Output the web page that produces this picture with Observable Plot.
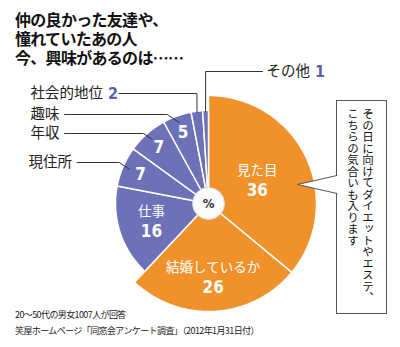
<!DOCTYPE html>
<html><head><meta charset="utf-8">
<script src="https://cdn.jsdelivr.net/npm/d3@7"></script>
<script src="https://cdn.jsdelivr.net/npm/@observablehq/plot@0.6"></script>
<style>
body{margin:0;background:#fff;}
#wrap{position:relative;width:400px;height:347px;overflow:hidden;font-family:"Noto Sans CJK JP",sans-serif;}
#chart{position:absolute;left:0;top:0;}
#title{position:absolute;left:15px;top:10px;font-size:16px;font-weight:bold;line-height:19px;color:#111;letter-spacing:-0.7px;}
#title div{height:19px;overflow:visible;}
#foot{position:absolute;left:15px;top:307px;font-size:9px;line-height:16px;color:#222;letter-spacing:-0.6px;}
#note{position:absolute;left:336px;top:100px;width:50px;height:213px;box-sizing:border-box;writing-mode:vertical-rl;font-size:11.5px;line-height:15px;padding:8px 11px 0 0;color:#111;}
</style></head>
<body>
<div id="wrap">
  <div id="chart"></div>
  <div id="title"><div>仲の良かった友達や、</div><div>憧れていたあの人</div><div>今、興味があるのは……</div></div>
  <div id="note">その日に向けてダイエットやエステ、こちらの気合いも入ります</div>
  <div id="foot"><div>20～50代の男女1007人が回答</div><div>笑屋ホームページ「同窓会アンケート調査」（2012年1月31日付）</div></div>
</div>
<script>
// ---- data ----
const categories = ["見た目","結婚しているか","仕事","現住所","年収","趣味","社会的地位","その他"];
const values = [36, 26, 16, 7, 7, 5, 2, 1];
const groups = ["A","A","B","B","B","B","B","B"];
const unitLabel = "%";

// ---- layout ----
const W = 400, H = 347, cx = 208, cy = 203;
const outerR = {A: 108, B: 93};
const colors = {A: "#F0912A", B: "#6D71B8"};
const numColor = "#5A5FAE";
const jp = "'Noto Sans CJK JP', sans-serif";
const num = "'DejaVu Sans Condensed', 'Liberation Sans Narrow', 'Noto Sans CJK JP', sans-serif";
// label placement (annotation layout)
const inside = {"見た目": {r: 54, both: true}, "結婚しているか": {r: 74, both: true}, "仕事": {r: 60, both: true},
  "現住所": {r: 74}, "年収": {r: 75}, "趣味": {r: 75}};
const outside = {
  "社会的地位": {x: 30, y: 93, kind: "vertical", showNum: true},
  "趣味": {x: 30, y: 114, kind: "diag"},
  "年収": {x: 30, y: 133, kind: "diag"},
  "現住所": {x: 28, y: 162, kind: "diag"},
  "その他": {x: 266, y: 71, kind: "vertical", showNum: true, right: true}
};
const outFont = 14.5;

const rows = categories.map((name, i) => ({name, value: values[i], group: groups[i]}));
const arcs = d3.pie().sort(null).value(d => d.value)(rows);
const pt = (a, r) => ({x: cx + r * Math.sin(a), y: cy - r * Math.cos(a)});

// slice polygons
const slicePts = arcs.flatMap(a => {
  const r = outerR[a.data.group];
  const n = Math.max(2, Math.ceil((a.endAngle - a.startAngle) / (Math.PI / 180)));
  const pts = [{x: cx, y: cy}];
  for (let i = 0; i <= n; i++) pts.push(pt(a.startAngle + (a.endAngle - a.startAngle) * i / n, r));
  pts.push({x: cx, y: cy});
  return pts.map(p => ({...p, name: a.data.name, group: a.data.group}));
});

// inside labels
const inNames = [], inNums = [], inSmall = [];
for (const a of arcs) {
  const L = inside[a.data.name]; if (!L) continue;
  const m = (a.startAngle + a.endAngle) / 2, p = pt(m, L.r);
  if (L.both) { inNames.push({...p, t: a.data.name}); inNums.push({...p, t: String(a.data.value)}); }
  else inSmall.push({...p, t: String(a.data.value)});
}

// outside labels & leaders
const outNames = [], outNums = [], leaders = [];
for (const a of arcs) {
  const L = outside[a.data.name]; if (!L) continue;
  const m = (a.startAngle + a.endAngle) / 2;
  const nameW = a.data.name.length * outFont;
  outNames.push({x: L.x, y: L.y, t: a.data.name});
  let lineStart;
  if (L.showNum) {
    const nx = L.x + nameW + 5;
    outNums.push({x: nx, y: L.y, t: String(a.data.value)});
    lineStart = nx + 11;
  } else lineStart = L.x + nameW + 5;
  if (L.kind === "vertical") {
    const e = pt(m, 92);
    const sx = L.right ? L.x - 4 : lineStart;
    leaders.push({x: sx, y: L.y, id: a.data.name}, {x: e.x, y: L.y, id: a.data.name}, {x: e.x, y: e.y, id: a.data.name});
  } else {
    const e = pt(m, 86);
    const ex = e.x - 1.5 * (e.y - L.y);
    leaders.push({x: lineStart, y: L.y, id: a.data.name}, {x: ex, y: L.y, id: a.data.name}, {x: e.x, y: e.y, id: a.data.name});
  }
}

// callout
const box = [{x1: 336.5, x2: 386.5, y1: 100.5, y2: 313.5}];
const ptrFill = [{x: 337.5, y: 175}, {x: 297, y: 184}, {x: 337.5, y: 193}];
const ptrEdge = [{x: 336.5, y: 175}, {x: 297, y: 184}, {x: 336.5, y: 193}];

const chart = Plot.plot({
  width: W, height: H, margin: 0,
  x: {domain: [0, W], axis: null},
  y: {domain: [0, H], reverse: true, axis: null},
  color: {domain: ["A", "B"], range: [colors.A, colors.B]},
  style: {background: "transparent"},
  marks: [
    Plot.line(slicePts, {x: "x", y: "y", z: "name", fill: "group", stroke: "white", strokeWidth: 1.5, strokeLinejoin: "miter"}),
    Plot.dot([{x: cx, y: cy}], {x: "x", y: "y", r: 16, fill: "#fbfbfb", stroke: "#d8d8d8", strokeWidth: 1}),
    Plot.text([{x: cx, y: cy, t: unitLabel}], {x: "x", y: "y", text: "t", fontSize: 13, fontWeight: "bold", fill: "#333", fontFamily: num}),
    Plot.text(inNames, {x: "x", y: "y", text: "t", dy: -10, fill: "white", fontSize: 13.5, fontFamily: jp}),
    Plot.text(inNums, {x: "x", y: "y", text: "t", dy: 10, fill: "white", fontSize: 17, fontWeight: "bold", fontFamily: num}),
    Plot.text(inSmall, {x: "x", y: "y", text: "t", fill: "white", fontSize: 17, fontWeight: "bold", fontFamily: num}),
    Plot.line(leaders, {x: "x", y: "y", z: "id", stroke: "#333", strokeWidth: 1, strokeLinejoin: "miter"}),
    Plot.text(outNames, {x: "x", y: "y", text: "t", textAnchor: "start", fill: "#222", fontSize: outFont, fontFamily: jp}),
    Plot.text(outNums, {x: "x", y: "y", text: "t", textAnchor: "start", fill: numColor, fontSize: 16, fontWeight: "bold", fontFamily: num}),
    Plot.rect(box, {x1: "x1", x2: "x2", y1: "y1", y2: "y2", fill: "white", stroke: "#555", strokeWidth: 1}),
    Plot.line(ptrFill, {x: "x", y: "y", fill: "white", stroke: "none"}),
    Plot.line(ptrEdge, {x: "x", y: "y", stroke: "#555", strokeWidth: 1, strokeLinejoin: "miter"})
  ]
});
document.getElementById("chart").append(chart);
</script>
</body></html>
